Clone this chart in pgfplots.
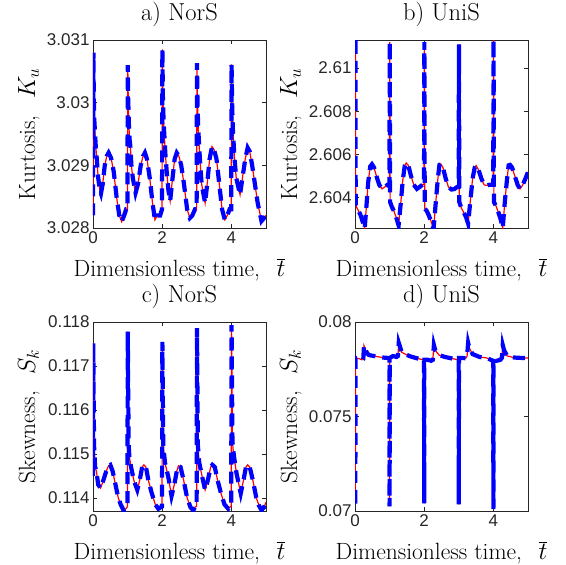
\documentclass[border=0pt]{standalone}
\usepackage{pgfplots}
\pgfplotsset{compat=1.18}
\usepackage{pgfplotstable}
\usepackage{fontspec}
\setsansfont{Liberation Sans}
\definecolor{axgray}{rgb}{0.15,0.15,0.15}

\pgfplotstableread{
t y
0.000 3.0282
0.012 3.0308
0.022 3.0301
0.040 3.0297
0.060 3.0295
0.080 3.0293
0.110 3.0291
0.150 3.0288
0.200 3.02860
0.230 3.02855
0.280 3.0287
0.340 3.0290
0.400 3.02915
0.450 3.02920
0.520 3.02912
0.600 3.0289
0.680 3.0285
0.760 3.0282
0.830 3.02810
0.900 3.0282
0.960 3.0283
0.995 3.0283
1.005 3.0306
1.020 3.0300
1.040 3.0296
1.060 3.0294
1.080 3.0293
1.110 3.0290
1.150 3.0288
1.230 3.02856
1.300 3.0287
1.380 3.0290
1.450 3.02915
1.500 3.02920
1.560 3.02910
1.640 3.0288
1.720 3.0284
1.790 3.02813
1.860 3.0282
1.940 3.0282
1.995 3.0283
2.005 3.03085
2.020 3.0301
2.040 3.0297
2.060 3.0295
2.090 3.0292
2.130 3.0289
2.180 3.0286
2.230 3.02843
2.300 3.0288
2.360 3.0291
2.420 3.02920
2.480 3.02915
2.550 3.0290
2.630 3.0287
2.720 3.0283
2.800 3.02816
2.870 3.0282
2.950 3.0283
2.995 3.0283
3.005 3.03063
3.020 3.0300
3.040 3.0296
3.060 3.0294
3.090 3.0291
3.140 3.0287
3.240 3.0284
3.300 3.0287
3.370 3.0291
3.440 3.02930
3.500 3.02925
3.570 3.0291
3.650 3.0287
3.730 3.0283
3.810 3.02813
3.880 3.0282
3.950 3.0283
3.995 3.0283
4.005 3.03061
4.020 3.0300
4.040 3.0296
4.060 3.0294
4.090 3.0291
4.140 3.0288
4.250 3.02853
4.320 3.0288
4.400 3.0291
4.470 3.02928
4.530 3.02922
4.600 3.0290
4.680 3.0287
4.760 3.0284
4.870 3.02811
4.930 3.02815
5.000 3.0282
}\dataA

\pgfplotstableread{
t y
0.000 2.6112
0.012 2.6112
0.020 2.6037
0.050 2.60355
0.100 2.6034
0.160 2.6032
0.220 2.6029
0.280 2.60258
0.330 2.6036
0.380 2.6047
0.440 2.60545
0.490 2.60555
0.550 2.6054
0.620 2.6050
0.700 2.6046
0.780 2.60441
0.860 2.6045
0.940 2.6046
0.995 2.6046
1.005 2.6112
1.015 2.6038
1.060 2.6036
1.120 2.6034
1.190 2.6031
1.260 2.60272
1.320 2.6037
1.380 2.6048
1.440 2.6055
1.480 2.60561
1.540 2.6055
1.620 2.6050
1.700 2.6046
1.790 2.60441
1.870 2.6045
1.950 2.6046
1.995 2.6046
2.005 2.6112
2.015 2.6035
2.070 2.6034
2.130 2.6032
2.200 2.6029
2.270 2.60255
2.330 2.6037
2.390 2.6048
2.440 2.60552
2.480 2.60557
2.540 2.6054
2.620 2.6049
2.700 2.6045
2.790 2.60438
2.870 2.6044
2.950 2.6045
2.995 2.6045
3.005 2.6111
3.015 2.6038
3.080 2.6035
3.150 2.6033
3.210 2.6031
3.270 2.6028
3.330 2.6038
3.400 2.6049
3.460 2.6054
3.500 2.60549
3.570 2.6053
3.650 2.6049
3.730 2.6046
3.810 2.60457
3.880 2.6046
3.950 2.6046
3.995 2.6046
4.005 2.6113
4.015 2.6038
4.080 2.6036
4.150 2.6033
4.210 2.6030
4.270 2.6026
4.330 2.6038
4.390 2.6048
4.440 2.6055
4.480 2.60552
4.540 2.6054
4.620 2.6050
4.700 2.6046
4.770 2.60441
4.850 2.6046
4.930 2.6049
5.000 2.6052
}\dataB

\pgfplotstableread{
t y
0.000 0.1145
0.008 0.11752
0.030 0.1152
0.060 0.11471
0.100 0.1146
0.150 0.1143
0.220 0.11422
0.300 0.1144
0.380 0.1146
0.450 0.11473
0.500 0.11475
0.570 0.1146
0.650 0.1143
0.730 0.1140
0.800 0.11385
0.880 0.11372
0.950 0.11375
0.995 0.1138
1.005 0.11778
1.030 0.1152
1.050 0.11494
1.100 0.1147
1.180 0.1144
1.280 0.11418
1.350 0.1144
1.420 0.1147
1.470 0.11475
1.530 0.1147
1.600 0.1144
1.700 0.1141
1.800 0.11385
1.890 0.11375
1.950 0.11378
1.995 0.1138
2.005 0.11755
2.030 0.1152
2.080 0.1148
2.180 0.11446
2.270 0.11404
2.350 0.1143
2.420 0.1146
2.470 0.11473
2.530 0.1147
2.620 0.1144
2.720 0.1140
2.820 0.11378
2.900 0.11372
2.960 0.1138
2.995 0.1138
3.005 0.11786
3.030 0.1152
3.070 0.1148
3.150 0.1145
3.240 0.11418
3.320 0.1144
3.400 0.1147
3.450 0.11475
3.520 0.1147
3.600 0.1144
3.700 0.1141
3.800 0.11385
3.910 0.11375
3.970 0.1138
3.995 0.1138
4.005 0.11793
4.030 0.1153
4.050 0.1151
4.100 0.1148
4.150 0.11455
4.270 0.1141
4.350 0.1144
4.420 0.1147
4.470 0.11475
4.530 0.1147
4.620 0.1144
4.720 0.1140
4.800 0.11382
4.870 0.11372
4.940 0.11378
5.000 0.1139
}\dataC

\pgfplotstableread{
t y
0.000 0.0705
0.010 0.0705
0.015 0.0781
0.050 0.07808
0.120 0.07806
0.200 0.07800
0.240 0.07805
0.260 0.07875
0.300 0.07855
0.350 0.07835
0.400 0.07825
0.550 0.0782
0.700 0.07815
0.860 0.07811
0.950 0.0781
0.995 0.0781
1.000 0.07025
1.005 0.0781
1.100 0.0782
1.200 0.07815
1.240 0.0782
1.265 0.0789
1.300 0.0787
1.350 0.0784
1.450 0.0783
1.600 0.07818
1.750 0.0781
1.900 0.07803
1.995 0.0780
2.000 0.0704
2.005 0.0780
2.100 0.0780
2.200 0.07795
2.250 0.0780
2.280 0.07878
2.320 0.0785
2.430 0.07825
2.600 0.07815
2.730 0.0781
2.900 0.07803
2.995 0.0780
3.000 0.07035
3.005 0.0781
3.100 0.0781
3.200 0.07808
3.240 0.0782
3.270 0.0789
3.310 0.0786
3.400 0.0783
3.600 0.07815
3.800 0.0781
3.950 0.07798
3.995 0.07795
4.000 0.0701
4.005 0.07795
4.100 0.07795
4.200 0.0780
4.245 0.0781
4.270 0.07878
4.310 0.0785
4.400 0.0782
4.600 0.07812
4.800 0.0781
5.000 0.0781
}\dataD

\newcommand{\labfont}{\fontsize{23.5}{27}\selectfont}
\newcommand{\titfont}{\fontsize{24.5}{28}\selectfont}

\pgfplotsset{
  panel/.style={
    scale only axis, width=173pt, height=188pt,
    xmin=0, xmax=5, xtick={0,2,4},
    tick align=inside, major tick length=4pt,
    axis line style={axgray, line width=0.8pt},
    every tick/.style={axgray, line width=0.6pt},
    tick label style={font=\fontsize{17}{17}\sffamily, text=axgray},
    /pgf/number format/assume math mode=true,
    scaled y ticks=false,
    title style={at={(axis description cs:0.5,1)}, anchor=base, yshift=14pt},
    xlabel style={at={(axis description cs:0.5,0)}, anchor=base, yshift=-48pt},
    ylabel style={at={(axis description cs:-0.37,0.5)}, anchor=center},
    xlabel={\labfont Dimensionless time,\hspace{0.7em}$\overline{t}$},
  },
  redline/.style={red, line width=1.2pt},
  blueline/.style={blue, line width=4.2pt, dash pattern=on 12pt off 7pt},
}

\begin{document}
\begin{tikzpicture}
\path[use as bounding box] (0pt,0pt) rectangle (566pt,-565pt);

\begin{axis}[panel, at={(93pt,-228pt)}, anchor=south west,
  title={\titfont a) NorS}, ylabel={\labfont Kurtosis,\hspace{0.7em}$K_u$},
  ymin=3.028, ymax=3.031, ytick={3.028,3.029,3.03,3.031},
  yticklabels={3.028,3.029,3.03,3.031}]
\addplot[redline] table {\dataA};
\addplot[blueline] table {\dataA};
\end{axis}

\begin{axis}[panel, at={(355pt,-228pt)}, anchor=south west,
  title={\titfont b) UniS}, ylabel={\labfont Kurtosis,\hspace{0.7em}$K_u$},
  ymin=2.6026, ymax=2.6113, ytick={2.604,2.606,2.608,2.61},
  yticklabels={2.604,2.606,2.608,2.61}]
\addplot[redline] table {\dataB};
\addplot[blueline] table {\dataB};
\end{axis}

\begin{axis}[panel, at={(93pt,-511pt)}, anchor=south west, height=189pt,
  title={\titfont c) NorS}, ylabel={\labfont Skewness,\hspace{0.7em}$S_k$},
  ymin=0.1137, ymax=0.118, ytick={0.114,0.115,0.116,0.117,0.118},
  yticklabels={0.114,0.115,0.116,0.117,0.118}]
\addplot[redline] table {\dataC};
\addplot[blueline] table {\dataC};
\end{axis}

\begin{axis}[panel, at={(355pt,-511pt)}, anchor=south west, height=189pt,
  title={\titfont d) UniS}, ylabel={\labfont Skewness,\hspace{0.7em}$S_k$},
  ymin=0.07, ymax=0.08, ytick={0.07,0.075,0.08},
  yticklabels={0.07,0.075,0.08}]
\addplot[redline] table {\dataD};
\addplot[blueline] table {\dataD};
\end{axis}
\end{tikzpicture}
\end{document}
